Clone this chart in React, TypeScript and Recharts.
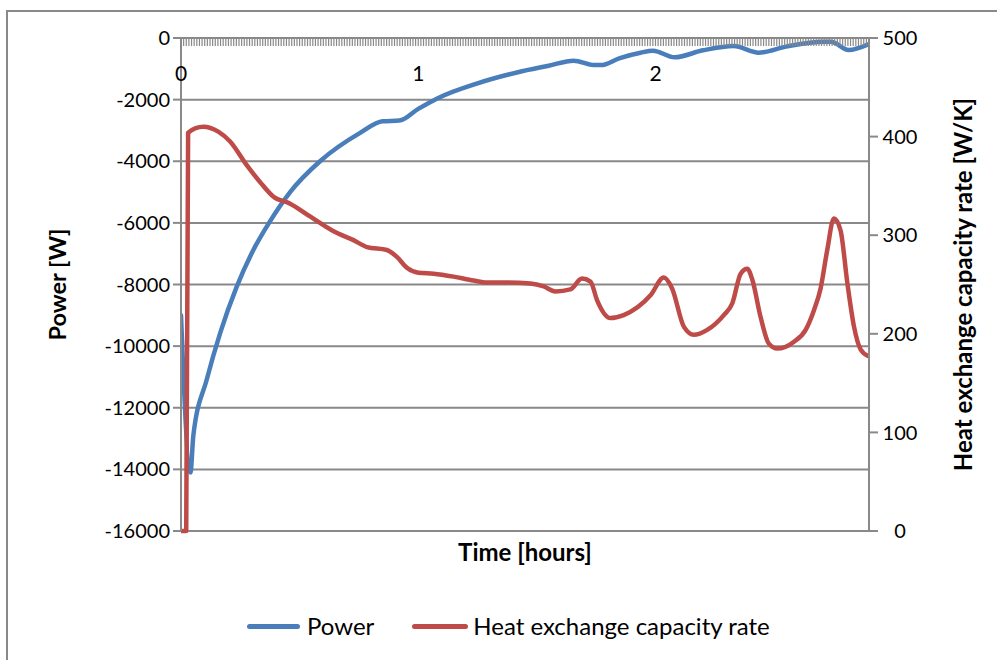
import React from 'react';
import { LineChart, Line, XAxis, YAxis, CartesianGrid, Label } from 'recharts';

// time in hours, power in W
const powerT = [0, 0.04, 0.052, 0.108, 0.165, 0.235, 0.305, 0.375, 0.46, 0.586, 0.755, 0.85, 0.92, 1.0, 1.08, 1.25, 1.42, 1.55, 1.655, 1.74, 1.77, 1.85, 1.937, 1.99, 2.08, 2.2, 2.33, 2.435, 2.55, 2.709, 2.74, 2.814, 2.9];
const powerW = [-9000, -14100, -12900, -11100, -9580, -8070, -6880, -5950, -5000, -4000, -3080, -2700, -2680, -2300, -1960, -1470, -1110, -900, -735, -876, -880, -650, -476, -412, -627, -400, -260, -476, -280, -119, -120, -389, -195];

// time in hours, heat exchange capacity rate in W/K
const hecT = [0, 0.022, 0.03, 0.094, 0.157, 0.207, 0.277, 0.333, 0.39, 0.46, 0.544, 0.643, 0.727, 0.784, 0.868, 0.91, 0.952, 1.001, 1.065, 1.149, 1.233, 1.29, 1.374, 1.473, 1.529, 1.578, 1.641, 1.69, 1.726, 1.754, 1.81, 1.866, 1.979, 2.035, 2.07, 2.12, 2.162, 2.218, 2.288, 2.324, 2.359, 2.387, 2.408, 2.443, 2.478, 2.513, 2.584, 2.633, 2.668, 2.696, 2.724, 2.752, 2.78, 2.809, 2.837, 2.865, 2.9];
const hecR = [0, 0, 404, 410, 405, 395, 371, 354, 339, 332, 319, 304, 295, 288, 285, 278, 267, 262, 261, 258, 254, 252, 252, 251, 248, 243, 245, 256, 253, 234, 216, 219, 239, 257, 246, 207, 199, 204, 219, 231, 261, 266, 255, 217, 190, 185, 192, 204, 224, 246, 285, 317, 305, 251, 207, 184, 177];

const powerTicks = [-16000, -14000, -12000, -10000, -8000, -6000, -4000, -2000, 0];
const hecTicks = [0, 100, 200, 300, 400, 500];
const timeLabels = [0, 1, 2];
const timeMax = 2.9;
const stepsPerHour = 90; // one category tick every 40 s

const powerName = 'Power';
const hecName = 'Heat exchange capacity rate';

const FONT = "Lato, 'Noto Sans', sans-serif";
const AXIS = '#898989';
const BLUE = '#4a7ebb';
const RED = '#be4b48';

const powerData = powerT.map((t, i) => ({ t, power: powerW[i] }));
const hecData = hecT.map((t, i) => ({ t, hec: hecR[i] }));

const minorTicks: number[] = [];
for (let i = 0; i <= Math.round(timeMax * stepsPerHour); i++) minorTicks.push(i / stepsPerHour);

const TimeTick = (props: any) => {
  const { x, y, payload } = props;
  const v = payload.value;
  const label = timeLabels.find(l => Math.abs(l - v) < 1e-6);
  return (
    <g>
      <line x1={x} y1={y} x2={x} y2={y + 8} stroke={AXIS} strokeWidth={1.2} />
      {label !== undefined && (
        <text x={x} y={y + 43} textAnchor="middle" fontSize={21} fontFamily={FONT} fill="#000">{label}</text>
      )}
    </g>
  );
};

const RightTick = (props: any) => {
  const { x, y, payload } = props;
  return (
    <text x={x + 22} y={y} dy="0.355em" textAnchor="middle" fontSize={20} fontFamily={FONT} fill="#000">{payload.value}</text>
  );
};

export default function App() {
  return (
    <div style={{ position: 'absolute', left: 0, top: 0, width: 997, height: 660, background: '#fff', fontFamily: FONT }}>
      <div style={{ position: 'absolute', left: 6, top: 10, width: 991, height: 650, boxSizing: 'border-box', borderLeft: `2px solid ${AXIS}`, borderTop: `2px solid ${AXIS}` }} />
      <div style={{ position: 'absolute', left: 0, top: 0 }}>
        <LineChart width={997} height={660} margin={{ top: 8, right: 0, bottom: 129, left: 0 }}>
          <CartesianGrid vertical={false} stroke={AXIS} strokeWidth={2} />
          <XAxis
            dataKey="t"
            type="number"
            orientation="top"
            domain={[0, timeMax]}
            ticks={minorTicks}
            interval={0}
            height={30}
            tickSize={0}
            tickMargin={0}
            tickLine={false}
            axisLine={{ stroke: AXIS, strokeWidth: 2 }}
            tick={<TimeTick />}
            allowDataOverflow
          >
            <Label
              content={(p: any) => (
                <text x={p.viewBox.x + p.viewBox.width / 2} y={561} textAnchor="middle" fontSize={24} fontWeight="bold" fontFamily={FONT} fill="#000">Time [hours]</text>
              )}
            />
          </XAxis>
          <YAxis
            domain={[-16000, 0]}
            ticks={powerTicks}
            interval={0}
            width={181}
            tickSize={8}
            tickMargin={3}
            tickLine={{ stroke: AXIS, strokeWidth: 2 }}
            axisLine={{ stroke: AXIS, strokeWidth: 2 }}
            tick={{ fill: '#000', fontSize: 20, fontFamily: FONT }}
          >
            <Label
              content={(p: any) => {
                const cx = p.viewBox.x + 57;
                const cy = p.viewBox.y + p.viewBox.height / 2;
                return (
                  <text x={cx} y={cy} transform={`rotate(-90, ${cx}, ${cy})`} textAnchor="middle" dominantBaseline="central" fontSize={23.5} fontWeight="bold" fontFamily={FONT} fill="#000">Power [W]</text>
                );
              }}
            />
          </YAxis>
          <YAxis
            yAxisId="h"
            orientation="right"
            domain={[0, 500]}
            ticks={hecTicks}
            interval={0}
            width={128}
            tickSize={9}
            tickMargin={0}
            tickLine={{ stroke: AXIS, strokeWidth: 2 }}
            axisLine={{ stroke: AXIS, strokeWidth: 2 }}
            tick={<RightTick />}
          >
            <Label
              content={(p: any) => {
                const cx = p.viewBox.x + 93;
                const cy = p.viewBox.y + p.viewBox.height / 2;
                return (
                  <text x={cx} y={cy} transform={`rotate(-90, ${cx}, ${cy})`} textAnchor="middle" dominantBaseline="central" fontSize={24} fontWeight="bold" fontFamily={FONT} fill="#000">Heat exchange capacity rate [W/K]</text>
                );
              }}
            />
          </YAxis>
          <Line data={powerData} dataKey="power" name={powerName} type="monotone" stroke={BLUE} strokeWidth={4.5} dot={false} isAnimationActive={false} strokeLinecap="round" strokeLinejoin="round" />
          <Line data={hecData} yAxisId="h" dataKey="hec" name={hecName} type="monotone" stroke={RED} strokeWidth={4.5} dot={false} isAnimationActive={false} strokeLinecap="round" strokeLinejoin="round" />
        </LineChart>
      </div>
      <div style={{ position: 'absolute', left: 247, top: 610, display: 'flex', alignItems: 'center', fontSize: 24, lineHeight: '32px', color: '#000' }}>
        <span style={{ display: 'inline-block', width: 53, height: 5, borderRadius: 3, background: BLUE, marginRight: 7 }} />
        <span>{powerName}</span>
        <span style={{ display: 'inline-block', width: 56, height: 5, borderRadius: 3, background: RED, marginLeft: 38, marginRight: 5 }} />
        <span>{hecName}</span>
      </div>
    </div>
  );
}
